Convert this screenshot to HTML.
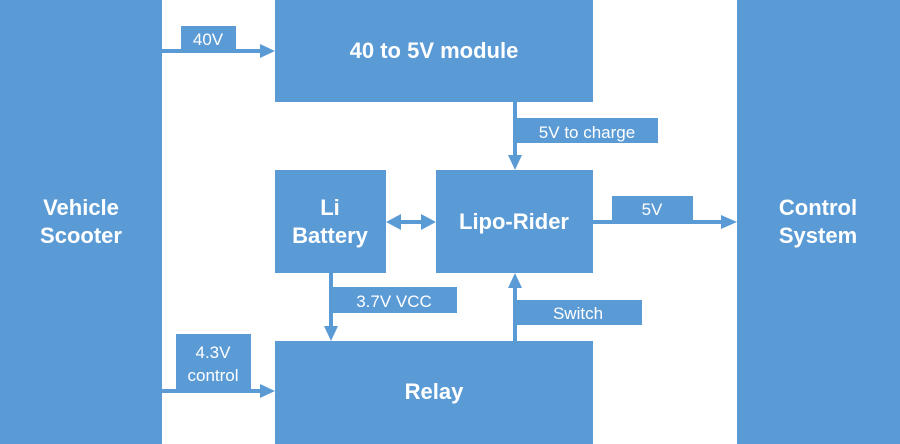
<!DOCTYPE html>
<html><head><style>
html,body{margin:0;padding:0;background:#fff;}
svg{display:block;}
.t{font-family:"Liberation Sans",sans-serif;font-weight:bold;font-size:22px;fill:#fff;}
.l{font-family:"Liberation Sans",sans-serif;font-size:17px;fill:#fff;}
</style></head><body>
<svg width="900" height="444" viewBox="0 0 900 444" xmlns="http://www.w3.org/2000/svg">
<g fill="#5b9bd5">
<rect x="0" y="0" width="162" height="444"/>
<rect x="737" y="0" width="163" height="444"/>
<rect x="275" y="0" width="318" height="102"/>
<rect x="275" y="170" width="111" height="103"/>
<rect x="436" y="170" width="157" height="103"/>
<rect x="275" y="341" width="318" height="103"/>
<!-- labels -->
<rect x="181" y="26" width="55" height="24"/>
<rect x="515" y="118" width="143" height="25"/>
<rect x="612" y="196" width="81" height="24"/>
<rect x="331" y="287" width="126" height="26"/>
<rect x="515" y="300" width="127" height="25"/>
<rect x="176" y="334" width="75" height="57"/>
<!-- arrows -->
<rect x="162" y="49" width="100" height="4"/>
<polygon points="260,44 275,51 260,58"/>
<rect x="513" y="102" width="4" height="56"/>
<polygon points="508,155 515,170 522,155"/>
<rect x="593" y="220" width="130" height="4"/>
<polygon points="721,215 737,222 721,229"/>
<rect x="398" y="220" width="26" height="4"/>
<polygon points="401,214 386,222 401,230"/>
<polygon points="421,214 436,222 421,230"/>
<rect x="329" y="273" width="4" height="56"/>
<polygon points="324,326 331,341 338,326"/>
<rect x="513" y="285" width="4" height="56"/>
<polygon points="508,288 515,273 522,288"/>
<rect x="162" y="389" width="100" height="4"/>
<polygon points="260,384 275,391 260,398"/>
</g>
<text class="t" x="81" y="215" text-anchor="middle">Vehicle</text>
<text class="t" x="81" y="243" text-anchor="middle">Scooter</text>
<text class="t" x="818" y="215" text-anchor="middle">Control</text>
<text class="t" x="818" y="243" text-anchor="middle">System</text>
<text class="t" x="434" y="58" text-anchor="middle">40 to 5V module</text>
<text class="t" x="330" y="215" text-anchor="middle">Li</text>
<text class="t" x="330" y="243" text-anchor="middle">Battery</text>
<text class="t" x="514" y="229" text-anchor="middle">Lipo-Rider</text>
<text class="t" x="434" y="399" text-anchor="middle">Relay</text>
<text class="l" x="208" y="45" text-anchor="middle">40V</text>
<text class="l" x="587" y="138" text-anchor="middle">5V to charge</text>
<text class="l" x="652" y="215" text-anchor="middle">5V</text>
<text class="l" x="394" y="307" text-anchor="middle">3.7V VCC</text>
<text class="l" x="578" y="319" text-anchor="middle">Switch</text>
<text class="l" x="213" y="358" text-anchor="middle">4.3V</text>
<text class="l" x="213" y="381" text-anchor="middle">control</text>
</svg>
</body></html>
